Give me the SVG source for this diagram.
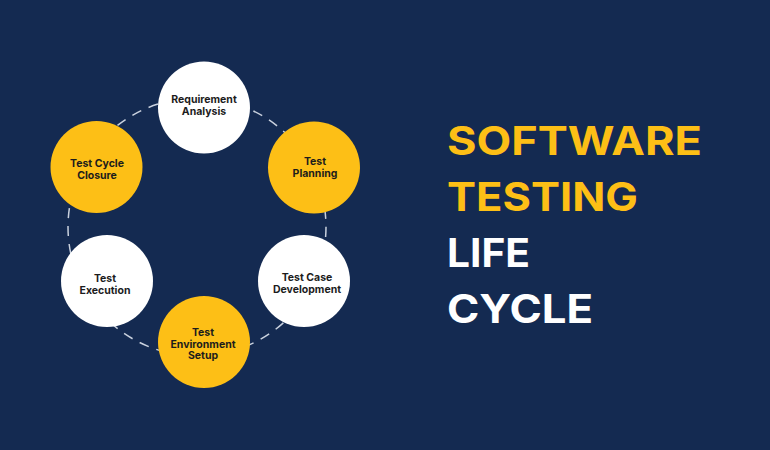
<svg xmlns="http://www.w3.org/2000/svg" width="770" height="450" viewBox="0 0 770 450">
<style>
.bg{fill:#142a51}
.w{fill:#ffffff}
.y{fill:#fdbf16}
.lbl{font-family:Inter,"Open Sans","Liberation Sans",sans-serif;font-weight:700;font-size:10.5px;fill:#1c1c1c;text-anchor:middle}
.ttl{font-family:Inter,"Open Sans","Liberation Sans",sans-serif;font-weight:700;font-size:39px}
.dash{fill:none;stroke:#c9d1de;stroke-width:1.5;stroke-dasharray:10 8}
</style>
<rect class="bg" x="0" y="0" width="770" height="450"/>
<g id="connectors">
<circle class="dash" cx="197" cy="227" r="129"/>
</g>
<g id="requirement-analysis">
<circle class="w" cx="204" cy="107.5" r="46"/>
<text class="lbl" x="204" y="103">Requirement</text>
<text class="lbl" x="204" y="114.5">Analysis</text>
</g>
<g id="test-planning">
<circle class="y" cx="314" cy="167.5" r="46"/>
<text class="lbl" x="315" y="165">Test</text>
<text class="lbl" x="315" y="176.5">Planning</text>
</g>
<g id="test-case-development">
<circle class="w" cx="304" cy="281" r="46"/>
<text class="lbl" x="307" y="281">Test Case</text>
<text class="lbl" x="307" y="292.5">Development</text>
</g>
<g id="test-environment-setup">
<circle class="y" cx="204" cy="342" r="46"/>
<text class="lbl" x="203" y="336">Test</text>
<text class="lbl" x="203" y="347.5">Environment</text>
<text class="lbl" x="203" y="359">Setup</text>
</g>
<g id="test-execution">
<circle class="w" cx="107" cy="281" r="46"/>
<text class="lbl" x="105" y="282">Test</text>
<text class="lbl" x="105" y="293.5">Execution</text>
</g>
<g id="test-cycle-closure">
<circle class="y" cx="96.5" cy="167" r="46"/>
<text class="lbl" x="97" y="167">Test Cycle</text>
<text class="lbl" x="97" y="178.5">Closure</text>
</g>
<g id="title">
<text class="ttl" x="447" y="155" fill="#fdbf16" textLength="255" lengthAdjust="spacingAndGlyphs">SOFTWARE</text>
<text class="ttl" x="447" y="211" fill="#fdbf16" textLength="191" lengthAdjust="spacingAndGlyphs">TESTING</text>
<text class="ttl" x="447" y="267" fill="#ffffff" textLength="83" lengthAdjust="spacingAndGlyphs">LIFE</text>
<text class="ttl" x="447" y="323" fill="#ffffff" textLength="146" lengthAdjust="spacingAndGlyphs">CYCLE</text>
</g>
</svg>
